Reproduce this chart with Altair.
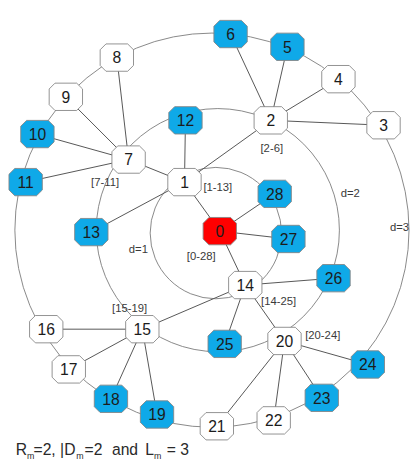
import altair as alt
import pandas as pd

# ---- data (image pixel coordinates) ----
node_ids = list(range(29))
node_x = [224, 188, 276, 391, 345, 293, 235, 131, 119, 67, 38, 26, 189, 93,
          250, 145, 47, 70, 113, 160, 290, 221, 279, 328, 375, 229, 340, 294, 280]
node_y = [231, 181, 118, 123, 76, 43, 30, 158, 54, 94, 132, 181, 118, 232,
          286, 331, 331, 372, 402, 418, 343, 430, 424, 401, 367, 346, 279, 239, 193]
node_kind = ["root", "white", "white", "white", "white", "blue", "blue", "white",
             "white", "white", "blue", "blue", "blue", "blue", "white", "white",
             "white", "white", "blue", "blue", "white", "white", "white", "blue",
             "blue", "blue", "blue", "blue", "blue"]

edge_src = [0, 0, 0, 0, 1, 1, 1, 1, 7, 7, 7, 7, 2, 2, 2, 2,
            14, 14, 14, 14, 15, 15, 15, 15, 20, 20, 20, 20]
edge_dst = [1, 28, 27, 14, 12, 7, 2, 13, 8, 9, 10, 11, 6, 5, 4, 3,
            26, 25, 20, 15, 16, 17, 18, 19, 21, 22, 23, 24]

ring_cx = [220, 222, 216]
ring_cy = [233, 230, 230]
ring_r = [67, 124, 201]

ann_text = ["[0-28]", "[1-13]", "[2-6]", "[7-11]", "[14-25]", "[15-19]", "[20-24]",
            "d=1", "d=2"]
ann_x = [205, 222, 277, 107, 284, 132, 329, 141, 357]
ann_y = [257, 187, 147, 182, 303, 310, 338, 250, 193]
edge_ann_text = ["d=3"]
edge_ann_x = [417]
edge_ann_y = [228]

foot_text = ["R", "=2, |D", "=2", "and", "L", "= 3"]
foot_x = [16, 34, 86, 114, 148, 170]
sub_text = ["m", "m", "m"]
sub_x = [27.5, 77.5, 157]

# ---- tables ----
nodes = pd.DataFrame({"id": node_ids, "x": node_x, "y": node_y, "kind": node_kind})
nodes["label"] = nodes["id"].astype(str)
pos = nodes.set_index("id")
edges = pd.DataFrame({
    "x": [pos.loc[s, "x"] for s in edge_src],
    "y": [pos.loc[s, "y"] for s in edge_src],
    "x2": [pos.loc[t, "x"] for t in edge_dst],
    "y2": [pos.loc[t, "y"] for t in edge_dst],
})
rings = pd.DataFrame({"x": ring_cx, "y": ring_cy, "s": [(2 * r) ** 2 for r in ring_r]})
anns = pd.DataFrame({"x": ann_x, "y": ann_y, "t": ann_text})
edge_anns = pd.DataFrame({"x": edge_ann_x, "y": edge_ann_y, "t": edge_ann_text})
foot = pd.DataFrame({"x": foot_x, "y": [459] * len(foot_x), "t": foot_text})
subs = pd.DataFrame({"x": sub_x, "y": [463] * len(sub_x), "t": sub_text})

FONT = "Liberation Sans"
xs = alt.Scale(domain=[8, 418], nice=False, zero=False)
ys = alt.Scale(domain=[8, 468], nice=False, zero=False, reverse=True)
X = lambda f="x": alt.X(f"{f}:Q", scale=xs, axis=None)
Y = lambda f="y": alt.Y(f"{f}:Q", scale=ys, axis=None)

ring_layer = alt.Chart(rings).mark_point(
    shape="circle", filled=False, stroke="#7a7a7a", strokeWidth=0.9, opacity=1
).encode(x=X(), y=Y(), size=alt.Size("s:Q", scale=None, legend=None))

edge_layer = alt.Chart(edges).mark_rule(color="#555555", strokeWidth=1).encode(
    x=X(), y=Y(), x2="x2:Q", y2="y2:Q"
)

octagon = ("M -0.65 -0.82 L 0.65 -0.82 L 1 -0.47 L 1 0.47 L 0.65 0.82 "
           "L -0.65 0.82 L -1 0.47 L -1 -0.47 Z")
node_layer = alt.Chart(nodes).mark_point(
    shape=octagon, filled=True, size=1156, stroke="#858585", strokeWidth=0.9, opacity=1
).encode(
    x=X(), y=Y(),
    fill=alt.Fill("kind:N", scale=alt.Scale(domain=["root", "blue", "white"],
                                           range=["#ff0000", "#0fa9e8", "#ffffff"]),
                  legend=None),
)

label_layer = alt.Chart(nodes).mark_text(
    font=FONT, fontSize=16, color="#1c1c1c", baseline="middle", align="center", dy=1
).encode(x=X(), y=Y(), text="label:N")

ann_layer = alt.Chart(anns).mark_text(
    font=FONT, fontSize=11.5, color="#3a3a3a", baseline="middle", align="center"
).encode(x=X(), y=Y(), text="t:N")

edge_ann_layer = alt.Chart(edge_anns).mark_text(
    font=FONT, fontSize=11.5, color="#3a3a3a", baseline="middle", align="right"
).encode(x=X(), y=Y(), text="t:N")

foot_layer = alt.Chart(foot).mark_text(
    font=FONT, fontSize=16, color="#2a2a2a", baseline="alphabetic", align="left"
).encode(x=X(), y=Y(), text="t:N")

sub_layer = alt.Chart(subs).mark_text(
    font=FONT, fontSize=9, color="#2a2a2a", baseline="alphabetic", align="left"
).encode(x=X(), y=Y(), text="t:N")

chart = alt.layer(
    ring_layer, edge_layer, node_layer, label_layer, ann_layer, edge_ann_layer,
    foot_layer, sub_layer
).properties(
    width=410, height=460, padding=0,
    autosize=alt.AutoSizeParams(type="none"),
).configure_view(stroke=None)

chart.save("out.html", embed_options={"renderer": "svg", "actions": False})
